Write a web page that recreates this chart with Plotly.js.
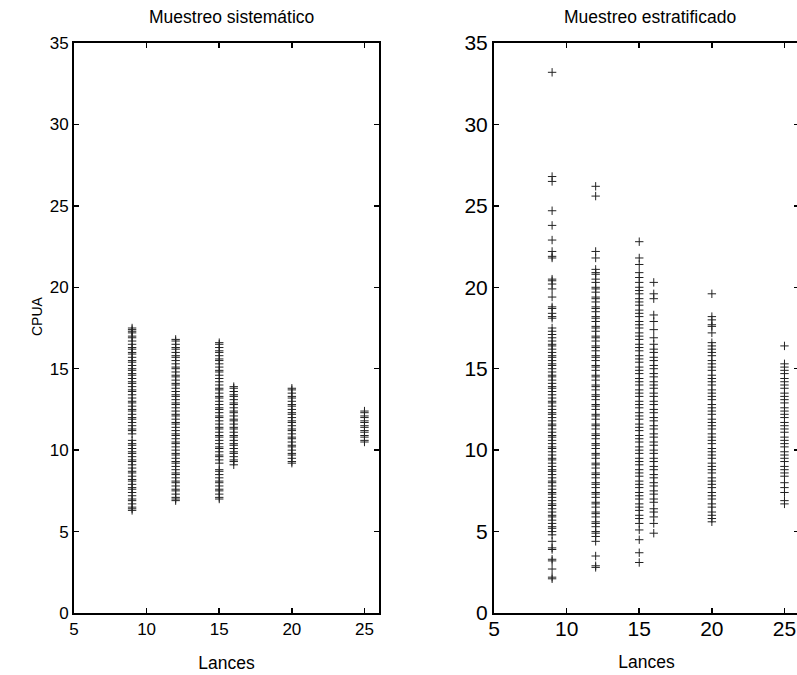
<!DOCTYPE html>
<html>
<head>
<meta charset="utf-8">
<script src="https://cdn.plot.ly/plotly-3.0.1.min.js"></script>
<style>
html,body{margin:0;padding:0;overflow:hidden;background:#fff;}
#chart{width:800px;height:675px;}
</style>
</head>
<body>
<div id="chart"></div>
<script>
// Lances (x categories)
const lances = [9, 12, 15, 16, 20, 25];

// Muestreo sistemático: CPUA values per number of hauls
const sis9 = [17.5,17.4,17.3,17.2,17.0,16.9,16.7,16.5,16.3,16.2,16.0,15.9,15.7,15.5,15.4,15.2,15.0,14.9,14.7,14.6,14.4,14.2,14.1,13.9,13.7,13.6,13.4,13.2,13.0,12.9,12.7,12.5,12.4,12.2,12.0,11.9,11.7,11.5,11.3,11.2,11.0,10.6,10.4,10.3,10.1,9.9,9.8,9.6,9.4,9.3,9.1,8.9,8.7,8.6,8.4,8.2,8.1,7.9,7.7,7.6,7.4,7.2,7.0,6.9,6.7,6.5,6.4,6.3];
const sis12 = [16.8,16.7,16.5,16.3,16.2,16.0,15.8,15.7,15.5,15.3,15.1,15.0,14.8,14.6,14.5,14.3,14.1,14.0,13.8,13.6,13.4,13.3,13.1,12.9,12.8,12.6,12.4,12.2,12.1,11.9,11.7,11.6,11.4,11.2,11.0,10.9,10.7,10.5,10.4,10.2,10.0,9.8,9.7,9.5,9.3,9.2,9.0,8.8,8.6,8.5,8.3,8.1,8.0,7.8,7.6,7.5,7.3,7.1,7.0,6.9];
const sis15 = [16.6,16.5,16.3,16.1,16.0,15.8,15.6,15.5,15.3,15.1,14.9,14.8,14.6,14.4,14.2,14.0,13.8,13.7,13.5,13.3,13.2,13.0,12.8,12.6,12.5,12.3,12.1,12.0,11.8,11.6,11.4,11.3,11.1,10.9,10.8,10.6,10.4,10.2,10.1,9.9,9.7,9.6,9.4,9.2,8.8,8.7,8.5,8.3,8.1,8.0,7.8,7.6,7.5,7.3,7.1,7.0];
const sis16 = [13.9,13.8,13.6,13.4,13.3,13.1,12.9,12.8,12.6,12.4,12.3,12.1,11.9,11.8,11.6,11.4,11.3,11.1,10.9,10.8,10.6,10.4,10.3,10.1,9.9,9.8,9.6,9.4,9.3,9.1];
const sis20 = [13.8,13.7,13.5,13.3,13.2,13.0,12.8,12.7,12.5,12.3,12.2,12.0,11.8,11.7,11.5,11.3,11.2,11.0,10.8,10.7,10.5,10.3,10.2,10.0,9.8,9.7,9.5,9.3,9.2];
const sis25 = [12.4,12.3,12.1,12.0,11.8,11.7,11.5,11.4,11.2,11.1,10.9,10.8,10.6,10.5];

// Muestreo estratificado: CPUA values per number of hauls
const est9 = [33.2,26.8,26.5,24.7,23.8,22.9,22.2,21.9,21.8,20.5,20.4,20.2,19.9,19.4,18.8,18.7,18.4,18.2,18.1,17.5,17.3,17.1,16.9,16.7,16.5,16.4,16.2,16.0,15.8,15.7,15.5,15.3,15.2,15.0,14.8,14.6,14.5,14.3,14.1,13.9,13.8,13.6,13.4,13.2,13.0,12.9,12.7,12.5,12.3,12.2,12.0,11.8,11.6,11.5,11.3,11.1,10.9,10.8,10.6,10.4,10.2,10.1,9.9,9.7,9.5,9.4,9.2,9.0,8.8,8.7,8.5,8.3,8.1,8.0,7.8,7.6,7.4,7.3,7.1,6.9,6.7,6.6,6.4,6.2,6.0,5.9,5.7,5.5,5.3,5.2,5.0,4.8,4.4,4.0,3.9,3.3,3.2,2.7,2.2,2.1];
const est12 = [26.2,25.6,22.2,21.8,21.1,20.9,20.8,20.5,20.3,20.0,19.9,19.7,19.4,19.3,19.1,18.8,18.7,18.5,18.2,18.1,17.9,17.6,17.5,17.3,17.0,16.9,16.7,16.4,16.3,16.1,15.8,15.7,15.5,15.2,15.1,14.9,14.6,14.5,14.3,14.0,13.9,13.7,13.4,13.3,13.1,12.8,12.7,12.5,12.2,12.1,11.9,11.6,11.5,11.3,11.0,10.9,10.7,10.4,10.3,10.1,9.8,9.7,9.5,9.2,9.1,8.9,8.6,8.5,8.3,8.0,7.9,7.7,7.4,7.3,7.1,6.8,6.7,6.5,6.2,6.1,5.9,5.6,5.5,5.3,5.0,4.9,4.7,4.4,3.5,2.9,2.8];
const est15 = [22.8,21.8,21.4,20.9,20.6,20.3,20.0,19.8,19.6,19.3,19.1,18.9,18.6,18.4,18.2,17.9,17.7,17.5,17.2,17.0,16.8,16.5,16.3,16.1,15.8,15.6,15.4,15.1,14.9,14.7,14.4,14.2,14.0,13.7,13.5,13.3,13.0,12.8,12.6,12.3,12.1,11.9,11.6,11.4,11.2,10.9,10.7,10.5,10.2,10.0,9.8,9.5,9.3,9.1,8.8,8.6,8.4,8.1,7.9,7.7,7.4,7.2,7.0,6.7,6.5,6.3,6.0,5.8,5.5,5.1,4.5,3.7,3.1];
const est16 = [20.3,19.6,19.3,18.3,17.9,17.4,16.9,16.5,16.2,16.0,15.7,15.5,15.2,15.0,14.7,14.5,14.2,14.0,13.8,13.5,13.3,13.0,12.8,12.5,12.3,12.0,11.8,11.5,11.3,11.0,10.8,10.5,10.3,10.0,9.8,9.5,9.3,9.0,8.8,8.5,8.3,8.0,7.8,7.5,7.3,7.0,6.8,6.4,6.2,5.9,5.5,4.9];
const est20 = [19.6,18.2,18.0,17.7,17.6,17.2,16.6,16.4,16.2,16.0,15.8,15.5,15.3,15.1,14.9,14.6,14.4,14.2,14.0,13.7,13.5,13.3,13.1,12.8,12.6,12.4,12.2,11.9,11.7,11.5,11.3,11.0,10.8,10.6,10.4,10.1,9.9,9.7,9.5,9.2,9.0,8.8,8.6,8.3,8.1,7.9,7.7,7.4,7.2,7.0,6.7,6.5,6.2,6.0,5.8,5.6];
const est25 = [16.4,15.3,15.1,14.9,14.7,14.4,14.2,14.0,13.8,13.5,13.3,13.1,12.9,12.6,12.4,12.2,12.0,11.7,11.5,11.3,11.1,10.8,10.6,10.4,10.2,9.9,9.7,9.5,9.3,9.0,8.8,8.6,8.4,8.0,7.7,7.4,6.9,6.7];

// Labels
const titles = ["Muestreo sistemático", "Muestreo estratificado"];
const xTitle = "Lances";
const yTitle = "CPUA";
const tickVals = [5, 10, 15, 20, 25];
const yTickVals = [0, 5, 10, 15, 20, 25, 30, 35];

const sisCols = [sis9, sis12, sis15, sis16, sis20, sis25];
const estCols = [est9, est12, est15, est16, est20, est25];

function build(cols, xa, ya) {
  const xs = [], ys = [];
  cols.forEach((col, i) => {
    col.forEach(v => { xs.push(lances[i]); ys.push(v); });
  });
  return {
    x: xs, y: ys, xaxis: xa, yaxis: ya,
    type: 'scatter', mode: 'markers', hoverinfo: 'skip', showlegend: false,
    marker: { symbol: 'cross-thin', size: 6, color: '#000', line: { color: '#222', width: 1 } }
  };
}

const fam = "Arial, 'Liberation Sans', sans-serif";

const axisCommon = {
  showline: true, linecolor: '#000', linewidth: 2, mirror: 'ticks',
  ticks: 'inside', ticklen: 5, tickwidth: 1.5, tickcolor: '#000',
  showgrid: false, zeroline: false, fixedrange: true
};

const layout = {
  width: 800, height: 675,
  margin: { l: 0, r: 0, t: 0, b: 0 },
  paper_bgcolor: '#fff', plot_bgcolor: '#fff',
  xaxis: Object.assign({}, axisCommon, {
    domain: [74/800, 379/800], range: [5, 26], tickvals: tickVals,
    anchor: 'y', tickfont: { family: fam, size: 17, color: '#000' },
    title: { text: xTitle, font: { family: fam, size: 17.5, color: '#000' }, standoff: 18 }
  }),
  yaxis: Object.assign({}, axisCommon, {
    domain: [1 - 613/675, 1 - 43/675], range: [0, 35], tickvals: yTickVals,
    anchor: 'x', tickfont: { family: fam, size: 17, color: '#000' }
  }),
  xaxis2: Object.assign({}, axisCommon, {
    domain: [494/800, 799/800], range: [5, 26], tickvals: tickVals,
    anchor: 'y2', ticklabelstandoff: -4, tickfont: { family: fam, size: 21, color: '#000' },
    title: { text: xTitle, font: { family: fam, size: 17.5, color: '#000' }, standoff: 17 }
  }),
  yaxis2: Object.assign({}, axisCommon, {
    domain: [1 - 613/675, 1 - 43/675], range: [0, 35], tickvals: yTickVals,
    anchor: 'x2', tickfont: { family: fam, size: 21, color: '#000' }
  }),
  annotations: [
    { text: titles[0], xref: 'paper', yref: 'paper', x: (74+390)/2/800, y: 1 - 17/675,
      showarrow: false, xanchor: 'center', yanchor: 'middle',
      font: { family: fam, size: 17.5, color: '#000' } },
    { text: titles[1], xref: 'paper', yref: 'paper', x: (494+806)/2/800, y: 1 - 17/675,
      showarrow: false, xanchor: 'center', yanchor: 'middle',
      font: { family: fam, size: 17.5, color: '#000' } },
    { text: yTitle, xref: 'paper', yref: 'paper', x: 37/800, y: 1 - 316/675,
      showarrow: false, xanchor: 'center', yanchor: 'middle', textangle: -90,
      font: { family: fam, size: 14, color: '#000' } }
  ]
};

Plotly.newPlot('chart', [build(sisCols, 'x', 'y'), build(estCols, 'x2', 'y2')], layout,
  { staticPlot: true, displayModeBar: false });
</script>
</body>
</html>
